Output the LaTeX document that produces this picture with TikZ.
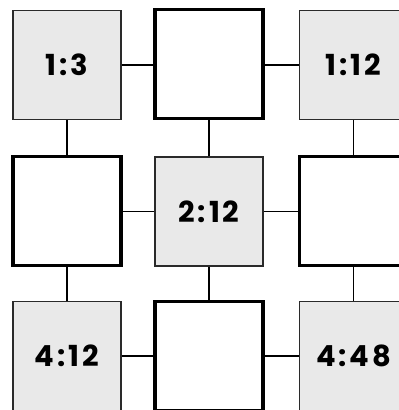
\documentclass[tikz,border=0pt]{standalone}
\usepackage{fontspec}
\setmainfont{Poppins}
\newfontfamily\lblfont{Poppins}[LetterSpace=10]
\definecolor{boxgray}{HTML}{E9E9E9}
\definecolor{edgegray}{HTML}{2A2A2A}
\tikzset{
  cell/.style={minimum width=108pt, minimum height=109pt, inner sep=0pt, anchor=center},
  graycell/.style={cell, draw=edgegray, line width=1.6pt, fill=boxgray, font=\lblfont\bfseries\fontsize{29}{29}\selectfont},
  whitecell/.style={cell, draw=black, line width=3.4pt, fill=white},
  link/.style={draw=black, line width=1.8pt}
}
\begin{document}
\begin{tikzpicture}[x=1pt,y=-1pt]
\clip (0,0) rectangle (399,410);
\fill[white] (0,0) rectangle (399,410);
\node[graycell]  (a) at (67,65)   {1:3};
\node[whitecell] (b) at (209,64)  {};
\node[graycell]  (c) at (353.5,65) {1:12};
\node[whitecell] (d) at (67,211)  {};
\node[graycell]  (e) at (209,211.5) {2:12};
\node[whitecell] (f) at (353.5,211) {};
\node[graycell]  (g) at (67,356)  {4:12};
\node[whitecell] (h) at (209,356) {};
\node[graycell]  (i) at (353.5,356) {4:48};
\path[link] (a.east) -- (a.east -| b.west);
\path[link] (b.east |- c.west) -- (c.west);
\path[link] (a.south) -- (a.south |- d.north);
\path[link] (b.south) -- (b.south |- e.north);
\path[link] (c.south) -- (c.south |- f.north);
\path[link] (d.east |- e.west) -- (e.west);
\path[link] (e.east) -- (e.east -| f.west);
\path[link] (d.south) -- (d.south |- g.north);
\path[link] (e.south) -- (e.south |- h.north);
\path[link] (f.south) -- (f.south |- i.north);
\path[link] (g.east) -- (g.east -| h.west);
\path[link] (h.east |- i.west) -- (i.west);
\end{tikzpicture}
\end{document}
